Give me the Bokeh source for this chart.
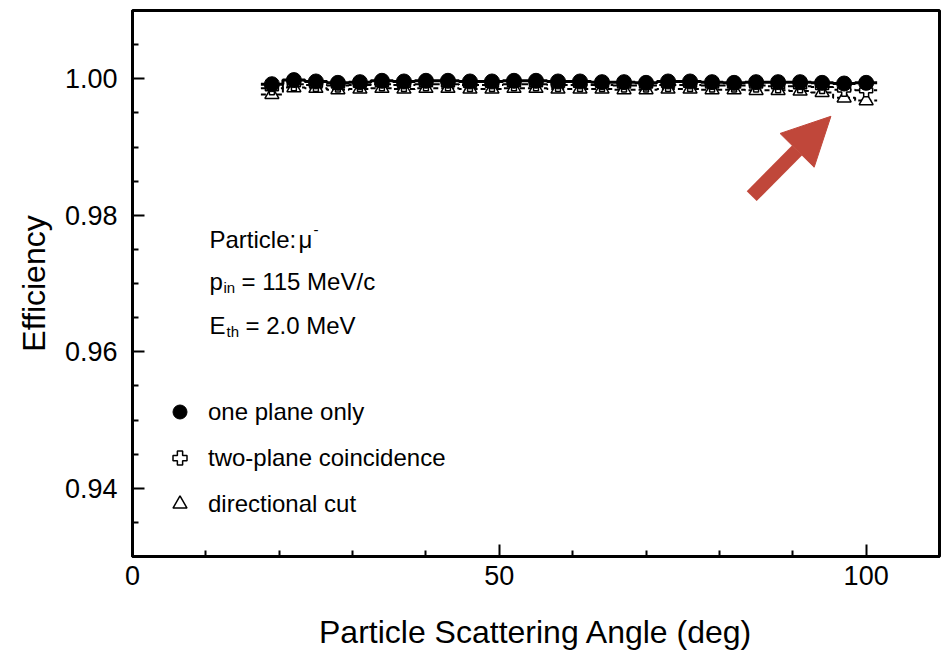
import numpy as np
from bokeh.plotting import figure
from bokeh.models import (FixedTicker, Label, Legend, LegendItem, Arrow,
                          NormalHead, NumeralTickFormatter)
from bokeh.embed import file_html
from bokeh.resources import INLINE

# ---------------- data ----------------
angle = [19, 22, 25, 28, 31, 34, 37, 40, 43, 46, 49, 52, 55, 58,
         61, 64, 67, 70, 73, 76, 79, 82, 85, 88, 91, 94, 97, 100]
eff_one = [0.9992, 0.9998, 0.9996, 0.9994, 0.9995, 0.9997, 0.9996, 0.9997,
           0.9997, 0.9996, 0.9996, 0.9997, 0.9997, 0.9996, 0.9996, 0.9995,
           0.9995, 0.9994, 0.9996, 0.9996, 0.9995, 0.9994, 0.9995, 0.9995,
           0.9995, 0.9994, 0.9993, 0.9994]
eff_two = [0.9986, 0.9992, 0.9991, 0.9990, 0.9991, 0.9992, 0.9991, 0.9992,
           0.9992, 0.9991, 0.9991, 0.9992, 0.9992, 0.9991, 0.9991, 0.9991,
           0.9990, 0.9990, 0.9991, 0.9991, 0.9990, 0.9990, 0.9990, 0.9989,
           0.9989, 0.9988, 0.9984, 0.9983]
eff_dir = [0.9977, 0.9987, 0.9986, 0.9984, 0.9985, 0.9986, 0.9985, 0.9986,
           0.9986, 0.9985, 0.9985, 0.9986, 0.9986, 0.9985, 0.9985, 0.9985,
           0.9984, 0.9984, 0.9985, 0.9985, 0.9984, 0.9984, 0.9983, 0.9983,
           0.9982, 0.9980, 0.9972, 0.9968]
bin_width = 3
x_ticks = [0, 50, 100]
x_minor = [10, 20, 30, 40, 60, 70, 80, 90]
y_ticks = [0.94, 0.96, 0.98, 1.00]
y_minor = [0.935, 0.945, 0.95, 0.955, 0.965, 0.97, 0.975, 0.985, 0.99, 0.995, 1.005]
legend_labels = ["one plane only", "two-plane coincidence", "directional cut"]

FONT = "Liberation Sans"
ARROW_RED = "#C0473A"

p = figure(width=943, height=652, x_range=(0, 110), y_range=(0.93, 1.01),
           output_backend="svg", toolbar_location=None,
           min_border_left=132, min_border_right=4, min_border_top=10,
           min_border_bottom=94)
p.xgrid.visible = False
p.ygrid.visible = False
p.outline_line_color = "black"
p.outline_line_width = 3
p.outline_line_alpha = 1.0

p.xaxis.ticker = FixedTicker(ticks=x_ticks, minor_ticks=x_minor)
p.yaxis.ticker = FixedTicker(ticks=y_ticks, minor_ticks=y_minor)
p.yaxis.formatter = NumeralTickFormatter(format="0.00")
p.xaxis.axis_label = "Particle Scattering Angle (deg)"
p.yaxis.axis_label = "Efficiency"
for ax in (p.xaxis[0], p.yaxis[0]):
    ax.axis_line_width = 3
    ax.axis_line_color = "black"
    ax.major_tick_line_width = 2
    ax.minor_tick_line_width = 2
    ax.major_tick_line_color = "black"
    ax.minor_tick_line_color = "black"
    ax.major_tick_in = 12
    ax.major_tick_out = 0
    ax.minor_tick_in = 6
    ax.minor_tick_out = 0
    ax.major_label_text_font = FONT
    ax.major_label_text_font_size = "27px"
    ax.major_label_text_color = "black"
    ax.axis_label_text_font = FONT
    ax.axis_label_text_font_size = "32px"
    ax.axis_label_text_font_style = "normal"
    ax.axis_label_text_color = "black"
p.xaxis.major_label_standoff = 9
p.xaxis.axis_label_standoff = 26
p.yaxis.major_label_standoff = 15
p.yaxis.axis_label_standoff = 10


def step_xy(xc, yc):
    xc = np.asarray(xc, dtype=float)
    lo = xc - bin_width / 2
    hi = xc + bin_width / 2
    return np.column_stack([lo, hi]).ravel(), np.repeat(np.asarray(yc, dtype=float), 2)


xs, ys = step_xy(angle, eff_dir)
p.line(xs, ys, line_color="black", line_width=2, line_dash="5 3")
xs, ys = step_xy(angle, eff_two)
p.line(xs, ys, line_color="black", line_width=2, line_dash="7 3")
xs, ys = step_xy(angle, eff_one)
p.line(xs, ys, line_color="black", line_width=3)

r_dir = p.scatter(angle, eff_dir, marker="triangle", size=14, fill_color="white",
                  line_color="black", line_width=1.5)
r_two = p.scatter(angle, eff_two, marker="plus", size=13, fill_color="white",
                  line_color="black", line_width=1.5)
r_one = p.scatter(angle, eff_one, marker="circle", size=15, fill_color="black",
                  line_color="black")

legend = Legend(items=[LegendItem(label=legend_labels[0], renderers=[r_one]),
                       LegendItem(label=legend_labels[1], renderers=[r_two]),
                       LegendItem(label=legend_labels[2], renderers=[r_dir])],
                location=(30, 35), glyph_width=35, glyph_height=35, spacing=11,
                padding=0, margin=0, label_standoff=11,
                label_text_font=FONT, label_text_font_size="24px",
                label_text_color="black",
                border_line_color=None, background_fill_alpha=0)
p.add_layout(legend)


def lab(x, y, text, size="24px"):
    p.add_layout(Label(x=x, y=y, x_units="screen", y_units="screen", text=text,
                       text_font=FONT, text_font_size=size, text_color="black",
                       text_baseline="alphabetic", text_align="left"))


lab(77, 317, "Particle:")
lab(166, 317, "\u03bc")
lab(181, 327, "-", "15px")
lab(77, 275, "p")
lab(91, 269, "in", "15px")
lab(109, 275, "= 115 MeV/c")
lab(77, 231, "E")
lab(94, 225, "th", "15px")
lab(113, 231, "= 2.0 MeV")

p.add_layout(Arrow(x_start=84.4, y_start=0.9828, x_end=95.2, y_end=0.99450,
                   line_color=ARROW_RED, line_width=14,
                   end=NormalHead(size=48, fill_color=ARROW_RED,
                                  line_color=ARROW_RED, line_width=1)))

open("out.html", "w").write(file_html(p, INLINE))
